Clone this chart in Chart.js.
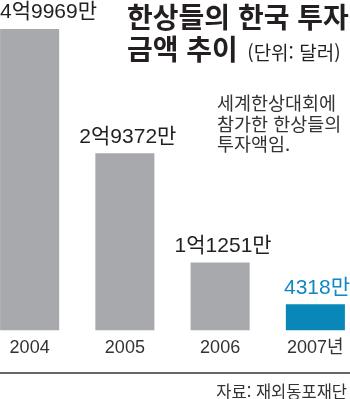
<!DOCTYPE html>
<html lang="ko">
<head>
<meta charset="UTF-8">
<title>한상들의 한국 투자 금액 추이</title>
<script src="https://cdn.jsdelivr.net/npm/chart.js"></script>
<style>
    html, body { margin: 0; padding: 0; background: #fff; }
    body { width: 350px; height: 399px; position: relative; overflow: hidden; font-family: "Noto Sans CJK KR", sans-serif; color: #231f20; }
    #chartBox { position: absolute; left: -18px; top: 0; width: 381px; height: 399px; }
    .title { position: absolute; left: 127px; font-weight: bold; font-size: 28px; line-height: 28px; white-space: nowrap; }
    .unit { font-weight: normal; font-size: 19px; margin-left: 4px; }
    .note { position: absolute; left: 217px; top: 92px; font-size: 18.5px; line-height: 20.5px; color: #333; white-space: nowrap; }
    .source { position: absolute; right: 3px; top: 381px; font-size: 16.5px; line-height: 20px; color: #333; white-space: nowrap; }
</style>
</head>
<body>
<div id="chartBox"><canvas id="investChart" width="381" height="399"></canvas></div>
<div class="title" style="top:2px">한상들의 한국 투자</div>
<div class="title" style="top:34px">금액 추이<span class="unit"> (단위: 달러)</span></div>
<div class="note">세계한상대회에<br>참가한 한상들의<br>투자액임.</div>
<div class="source">자료: 재외동포재단</div>

<script>
    // 단위: 만 달러
    const years = ['2004', '2005', '2006', '2007년'];
    const amounts = [49969, 29372, 11251, 4318];
    const barColors = ['#a7a9ac', '#a7a9ac', '#a7a9ac', '#0a87b9'];
    const labelColors = ['#231f20', '#231f20', '#231f20', '#1188c0'];

    const X_SHIFT = 18; // canvas sits 18px left of the page edge

    function formatAmount(v) {
        if (v >= 10000) return Math.floor(v / 10000) + '억' + (v % 10000) + '만';
        return v + '만';
    }

    const valueLabels = {
        id: 'valueLabels',
        afterDatasetsDraw(chart) {
            const ctx = chart.ctx;
            const meta = chart.getDatasetMeta(0);
            ctx.save();
            ctx.font = '21px "Liberation Sans", "Noto Sans CJK KR"';
            ctx.textBaseline = 'bottom';
            ctx.textAlign = 'center';
            meta.data.forEach((bar, i) => {
                const txt = formatAmount(amounts[i]);
                const w = ctx.measureText(txt).width;
                let x = Math.max(bar.x + 3, X_SHIFT + w / 2);
                x = Math.min(x, X_SHIFT + 350 - w / 2);
                ctx.fillStyle = labelColors[i];
                ctx.fillText(txt, x, bar.y - 6);
            });
            // baseline rule
            ctx.strokeStyle = '#333';
            ctx.lineWidth = 1.5;
            ctx.beginPath();
            ctx.moveTo(0, 373);
            ctx.lineTo(chart.width, 373);
            ctx.stroke();
            ctx.restore();
        }
    };

    const ctx = document.getElementById('investChart').getContext('2d');
    const chart = new Chart(ctx, {
        type: 'bar',
        data: {
            labels: years,
            datasets: [{
                data: amounts,
                backgroundColor: barColors,
                borderWidth: 0,
                barPercentage: 0.62,
                categoryPercentage: 1
            }]
        },
        options: {
            responsive: false,
            animation: false,
            layout: { padding: { top: 29, bottom: 33, left: 0, right: 0 } },
            plugins: {
                legend: { display: false },
                tooltip: { enabled: false }
            },
            scales: {
                x: {
                    grid: { display: false, drawTicks: false },
                    border: { display: false },
                    ticks: {
                        color: '#333',
                        padding: 7,
                        font: { family: '"Liberation Sans", "Noto Sans CJK KR"', size: 18 }
                    }
                },
                y: {
                    display: false,
                    min: 0,
                    max: Math.max(...amounts)
                }
            }
        },
        plugins: [valueLabels]
    });
</script>
</body>
</html>
